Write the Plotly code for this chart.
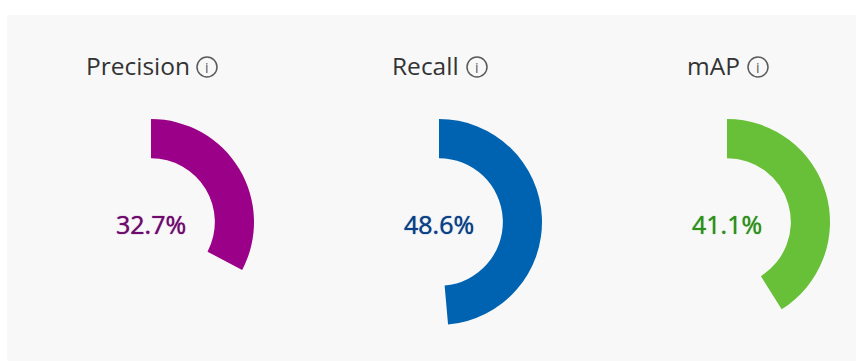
import plotly.graph_objects as go

metrics = ["Precision", "Recall", "mAP"]
values = [32.7, 48.6, 41.1]
labels = ["32.7%", "48.6%", "41.1%"]
ring_colors = ["#9b0088", "#0063b1", "#68c038"]
text_colors = ["#6e0a6e", "#0b3f86", "#2f8f1c"]

W, H = 856, 361
centers = [151, 439, 727]
cy, R = 222, 103
title_left = [86, 392, 687]
icon_x = [207, 477, 758]
icon_y = 67
icon_r = 10
font = "Open Sans, Noto Sans, sans-serif"

def px(x):
    return x / W

def py(y):
    return 1 - y / H

fig = go.Figure()
shapes = [dict(type="rect", xref="paper", yref="paper", x0=px(7), x1=1, y0=0, y1=py(15),
               fillcolor="#f8f8f8", line_width=0, layer="below")]
annotations = []

for i, m in enumerate(metrics):
    c = centers[i]
    fig.add_trace(go.Pie(
        values=[values[i], 100 - values[i]],
        labels=[m, "rest"],
        sort=False, direction="clockwise", rotation=0, hole=0.62,
        marker=dict(colors=[ring_colors[i], "rgba(0,0,0,0)"], line=dict(width=0)),
        textinfo="none", hoverinfo="label+value", showlegend=False,
        domain=dict(x=[px(c - R), px(c + R)], y=[py(cy + R), py(cy - R)]),
    ))
    annotations.append(dict(text=labels[i], x=px(c), y=py(224), xref="paper", yref="paper",
                            showarrow=False,
                            font=dict(family=font, size=25, color=text_colors[i],
                                      shadow=f"0 0 1px {text_colors[i]}"),
                            xanchor="center", yanchor="middle"))
    annotations.append(dict(text=m, x=px(title_left[i]), y=py(65), xref="paper", yref="paper",
                            showarrow=False, font=dict(family=font, size=24.5, color="#333333"),
                            xanchor="left", yanchor="middle", xshift=-2))
    ix = icon_x[i]
    shapes.append(dict(type="circle", xref="paper", yref="paper",
                       x0=px(ix - icon_r), x1=px(ix + icon_r),
                       y0=py(icon_y + icon_r), y1=py(icon_y - icon_r),
                       line=dict(color="#5a5a5a", width=1.5), fillcolor="rgba(0,0,0,0)"))
    annotations.append(dict(text="i", x=px(ix), y=py(icon_y), xref="paper", yref="paper",
                            showarrow=False, font=dict(family=font, size=14, color="#5a5a5a"),
                            xanchor="center", yanchor="middle"))

fig.update_layout(width=W, height=H, margin=dict(l=0, r=0, t=0, b=0),
                  paper_bgcolor="white", plot_bgcolor="white",
                  shapes=shapes, annotations=annotations)
fig.write_html("out.html", config=dict(displayModeBar=False),
               post_script="document.body.style.margin='0';document.body.style.overflow='hidden';")
